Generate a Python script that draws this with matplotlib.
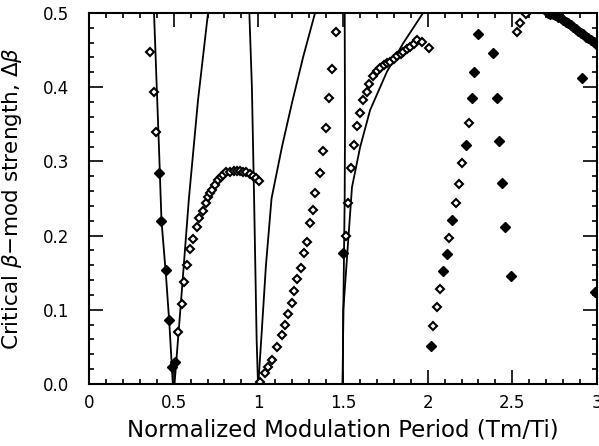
import matplotlib
matplotlib.use("Agg")
import matplotlib.pyplot as plt
from matplotlib.ticker import MultipleLocator

# solid curves: boundaries of the resonance tongues near 0.5, 1.0, 1.5
b05_left_x = [0.384, 0.400, 0.413, 0.428, 0.455, 0.475, 0.495]
b05_left_y = [0.50, 0.40, 0.32, 0.22, 0.145, 0.08, 0.0]
b05_right_x = [0.505, 0.548, 0.590, 0.644, 0.703]
b05_right_y = [0.0, 0.125, 0.25, 0.383, 0.50]
b10_left_x = [0.947, 0.962, 0.975, 0.990, 0.998]
b10_left_y = [0.50, 0.40, 0.25, 0.06, 0.0]
b10_right_x = [1.000, 1.020, 1.045, 1.078, 1.140, 1.200, 1.264, 1.335]
b10_right_y = [0.0, 0.07, 0.16, 0.25, 0.32, 0.38, 0.44, 0.50]
b15_left_x = [1.510, 1.512, 1.510, 1.502, 1.498]
b15_left_y = [0.50, 0.35, 0.25, 0.10, 0.0]
b15_right_x = [1.498, 1.502, 1.553, 1.601, 1.660, 1.760, 1.855, 1.973]
b15_right_y = [0.0, 0.10, 0.265, 0.319, 0.369, 0.421, 0.459, 0.50]

# simulation points (open diamonds)
open_x = [0.360, 0.384, 0.396,
          0.526, 0.549, 0.561, 0.579, 0.597, 0.614, 0.638, 0.650, 0.673, 0.691,
          0.703, 0.715, 0.727, 0.744, 0.762, 0.777, 0.791, 0.812, 0.833, 0.854,
          0.874, 0.893, 0.910, 0.930, 0.951, 0.970, 0.985, 1.005,
          1.010, 1.040, 1.057, 1.081, 1.110, 1.140, 1.158, 1.176, 1.199, 1.211,
          1.229, 1.252, 1.270, 1.288, 1.305, 1.323, 1.335, 1.364, 1.382, 1.400,
          1.418, 1.435, 1.459,
          1.515, 1.530, 1.548, 1.565, 1.583, 1.601, 1.618, 1.642, 1.654, 1.678,
          1.701, 1.720, 1.740, 1.760, 1.778, 1.800, 1.820, 1.840, 1.855, 1.876,
          1.896, 1.917, 1.937, 1.967, 2.008,
          2.032, 2.055, 2.073, 2.126, 2.168, 2.185, 2.203, 2.244,
          2.528, 2.546, 2.581]
open_y = [0.447, 0.394, 0.340,
          0.070, 0.108, 0.137, 0.160, 0.182, 0.195, 0.212, 0.224, 0.233, 0.244,
          0.252, 0.257, 0.261, 0.268, 0.275, 0.279, 0.282, 0.285, 0.286, 0.287,
          0.287, 0.287, 0.286, 0.285, 0.283, 0.280, 0.277, 0.273,
          0.003, 0.015, 0.023, 0.032, 0.050, 0.066, 0.080, 0.094, 0.109, 0.125,
          0.142, 0.156, 0.176, 0.191, 0.217, 0.234, 0.257, 0.284, 0.314, 0.345,
          0.385, 0.424, 0.474,
          0.200, 0.244, 0.291, 0.322, 0.348, 0.365, 0.383, 0.394, 0.404, 0.415,
          0.422, 0.426, 0.430, 0.432, 0.434, 0.438, 0.442, 0.445, 0.448, 0.451,
          0.454, 0.458, 0.463, 0.461, 0.453,
          0.078, 0.104, 0.128, 0.197, 0.244, 0.270, 0.298, 0.352,
          0.474, 0.486, 0.499]

# simulation points (filled diamonds)
filled_x = [0.413, 0.425, 0.455, 0.473, 0.490, 0.508,
            1.500,
            2.020, 2.091, 2.115, 2.144, 2.227, 2.262, 2.274, 2.298,
            2.386, 2.410, 2.422, 2.439, 2.457, 2.493,
            2.710, 2.725, 2.740, 2.755, 2.770, 2.785, 2.800, 2.815, 2.830, 2.845,
            2.860, 2.875, 2.890, 2.905, 2.920, 2.935, 2.950, 2.965, 2.980, 2.995,
            2.912, 2.990]
filled_y = [0.284, 0.220, 0.154, 0.086, 0.023, 0.030,
            0.177,
            0.051, 0.152, 0.175, 0.221, 0.322, 0.385, 0.420, 0.472,
            0.446, 0.385, 0.327, 0.271, 0.212, 0.146,
            0.500, 0.499, 0.498, 0.497, 0.495, 0.493, 0.490, 0.488, 0.486, 0.484,
            0.481, 0.479, 0.476, 0.473, 0.471, 0.468, 0.466, 0.463, 0.461, 0.458,
            0.412, 0.124]

fig = plt.figure(figsize=(5.99, 4.46), dpi=100)
ax = fig.add_axes([0.1486, 0.139, 0.848, 0.832])

for xs, ys in [(b05_left_x, b05_left_y), (b05_right_x, b05_right_y),
               (b10_left_x, b10_left_y), (b10_right_x, b10_right_y),
               (b15_left_x, b15_left_y), (b15_right_x, b15_right_y)]:
    ax.plot(xs, ys, color='black', lw=1.3)

ax.plot(open_x, open_y, ls='none', marker='D', ms=4.3, mfc='white',
        mec='black', mew=1.5)
ax.plot(filled_x, filled_y, ls='none', marker='D', ms=4.8, mfc='black',
        mec='black', mew=1.0)

ax.set_xlim(0, 3)
ax.set_ylim(0, 0.5)
ax.set_xticks([0, 0.5, 1, 1.5, 2, 2.5, 3])
ax.set_xticklabels(['0', '0.5', '1', '1.5', '2', '2.5', '3'])
ax.set_yticks([0, 0.1, 0.2, 0.3, 0.4, 0.5])
ax.set_yticklabels(['0.0', '0.1', '0.2', '0.3', '0.4', '0.5'])
ax.xaxis.set_minor_locator(MultipleLocator(0.1))
ax.yaxis.set_minor_locator(MultipleLocator(0.02))

ax.tick_params(which='both', direction='in', top=True, right=True, width=1.2)
ax.tick_params(which='major', length=10, labelsize=12)
ax.tick_params(which='minor', length=3.5)
ax.tick_params(axis='x', pad=7)
ax.tick_params(axis='y', pad=14)
for s in ax.spines.values():
    s.set_linewidth(1.5)

ax.set_xlabel('Normalized Modulation Period (Tm/Ti)', fontsize=16.5)
ax.set_ylabel('Critical $\\beta$\u2212mod strength, $\\Delta\\beta$', fontsize=15.5)
ax.xaxis.set_label_coords(0.5, -0.092)
ax.yaxis.set_label_coords(-0.128, 0.5)

fig.savefig('out.png', dpi=100)
